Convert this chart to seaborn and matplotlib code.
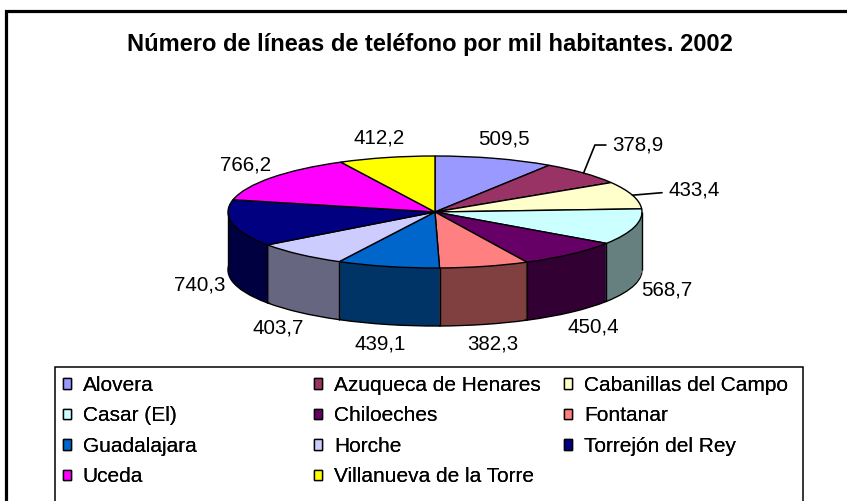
import numpy as np
import matplotlib
matplotlib.use("Agg")
import matplotlib.pyplot as plt
from matplotlib.patches import Patch, Rectangle
from matplotlib.colors import to_rgb
import seaborn as sns

# datos
municipios = ["Alovera", "Azuqueca de Henares", "Cabanillas del Campo", "Casar (El)",
              "Chiloeches", "Fontanar", "Guadalajara", "Horche", "Torrejón del Rey",
              "Uceda", "Villanueva de la Torre"]
lineas = [509.5, 378.9, 433.4, 568.7, 450.4, 382.3, 439.1, 403.7, 740.3, 766.2, 412.2]
colores = ["#9999FF", "#993366", "#FFFFCC", "#CCFFFF", "#660066", "#FF8080",
           "#0066CC", "#CCCCFF", "#000080", "#FF00FF", "#FFFF00"]
titulo = "Número de líneas de teléfono por mil habitantes. 2002"

sns.set_style("white")
plt.rcParams["font.family"] = ["Liberation Sans", "DejaVu Sans"]
plt.rcParams["text.color"] = "black"

W, H = 847, 501
fig = plt.figure(figsize=(W / 100, H / 100), dpi=100)
fig.patch.set_facecolor("white")

# pie geometry in pixels (center, radii, depth of the 3D side)
cx, cy, rx, ry, depth_px = 435, 212, 207, 56, 58
depth = depth_px / ry

ax = fig.add_axes([0, 0, 1, 1])
ax.set_axis_off()

# side of the 3D pie: stack of darker pies
oscuros = [tuple(np.array(to_rgb(c)) * 0.5) for c in colores]
ax.pie(lineas, colors=oscuros, startangle=90, counterclock=False, center=(0, -depth),
       wedgeprops=dict(edgecolor="black", linewidth=1.0))
for t in np.linspace(depth - 0.02, 0.01, 120):
    ax.pie(lineas, colors=oscuros, startangle=90, counterclock=False, center=(0, -t),
           wedgeprops=dict(linewidth=0))

# vertical edges on the front side
total = sum(lineas)
bordes = np.deg2rad(90 - 360 * np.cumsum([0] + lineas[:-1]) / total)
frente = np.sin(bordes) < 0
ax.vlines(np.cos(bordes[frente]), np.sin(bordes[frente]) - depth, np.sin(bordes[frente]),
          color="black", lw=1.0)
ax.vlines([-1, 1], -depth, 0, color="black", lw=1.0)

# top face
ax.pie(lineas, colors=colores, startangle=90, counterclock=False,
       wedgeprops=dict(edgecolor="black", linewidth=1.0))

# labels
medios = np.deg2rad(90 - 360 * (np.cumsum(lineas) - np.array(lineas) / 2) / total)
con_guia = {"Azuqueca de Henares": ((0.855, 1.196), "angle,angleA=0,angleB=68,rad=0"),
            "Cabanillas del Campo": ((1.126, 0.393), "arc3")}
for nombre, v, a in zip(municipios, lineas, medios):
    txt = f"{v:.1f}".replace(".", ",")
    if nombre in con_guia:
        pos, estilo = con_guia[nombre]
        ax.annotate(txt, xy=(np.cos(a), np.sin(a)), xytext=pos, ha="left", va="center",
                    fontsize=14.8, color="black",
                    arrowprops=dict(arrowstyle="-", color="black", lw=1.2,
                                    shrinkA=2, shrinkB=0, connectionstyle=estilo))
    else:
        y = 1.36 * np.sin(a) - (depth if np.sin(a) < 0 else 0)
        ax.text(1.16 * np.cos(a), y, txt, ha="center", va="center", fontsize=14.8,
                color="black")

ax.set_aspect("auto")
ax.set_xlim((0 - cx) / rx, (W - cx) / rx)
ax.set_ylim((cy - H) / ry, cy / ry)

fig.text(430 / W, 1 - 44 / H, titulo, ha="center", va="center",
         fontsize=17, fontweight="bold", color="black")

# outer chart frame and legend box
fig.add_artist(Rectangle((6 / W, -0.1), 2, 1.1 - 11 / H, transform=fig.transFigure,
                         fill=False, edgecolor="black", lw=2.3))
fig.add_artist(Rectangle((55 / W, -0.1), (803 - 55) / W, 0.1 + 1 - 367 / H,
                         transform=fig.transFigure, fill=False, edgecolor="black", lw=1.1))

# legend, row by row in three columns
handles = [Patch(facecolor=c, edgecolor="black", lw=1.0) for c in colores]
col_x = [63, 314, 564]
for k, x0 in enumerate(col_x):
    idx = list(range(k, len(municipios), 3))
    leg = fig.legend([handles[i] for i in idx], [municipios[i] for i in idx],
                     loc="upper left", bbox_to_anchor=(x0 / W, 1 - 376 / H),
                     frameon=False, borderpad=0, borderaxespad=0, fontsize=15,
                     handlelength=0.4, handleheight=0.4, handletextpad=0.55,
                     labelspacing=0.55, labelcolor="black")
    fig.add_artist(leg)

fig.savefig("out.png", dpi=100)
